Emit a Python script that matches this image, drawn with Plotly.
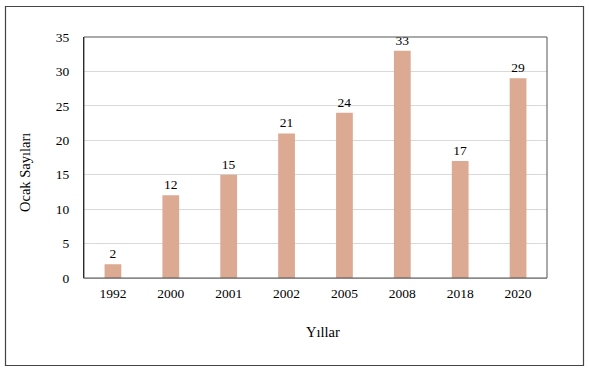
import plotly.graph_objects as go

years = ["1992", "2000", "2001", "2002", "2005", "2008", "2018", "2020"]
counts = [2, 12, 15, 21, 24, 33, 17, 29]
y_ticks = [0, 5, 10, 15, 20, 25, 30, 35]

FONT = "Liberation Serif, Times New Roman, serif"

fig = go.Figure(go.Bar(
    x=years, y=counts,
    marker=dict(color="#DCAA93", line=dict(width=0)),
    text=[str(c) for c in counts], textposition="outside",
    textfont=dict(family=FONT, size=13.5, color="#000"),
    cliponaxis=False,
))

L, R, T, B = 84, 42, 37, 91
W, H = 589, 369
pw, ph = W - L - R, H - T - B

def px2x(px):
    return (px - L) / pw

def py2y(py):
    return (H - B - py) / ph

fig.update_layout(
    width=W, height=H,
    margin=dict(l=L, r=R, t=T, b=B, autoexpand=False),
    paper_bgcolor="white", plot_bgcolor="white",
    bargap=0.71,
    showlegend=False,
    font=dict(family=FONT, size=13.5, color="#000"),
    xaxis=dict(
        showgrid=False, showline=True, linecolor="#bfbfbf", linewidth=1,
        ticks="", ticklabelstandoff=3, automargin=False,
    ),
    yaxis=dict(
        range=[0, 35], tickvals=y_ticks,
        showgrid=True, gridcolor="#d9d9d9", gridwidth=1,
        showline=True, linecolor="#000", linewidth=1,
        zeroline=False, ticks="", ticklabelstandoff=11, automargin=False,
    ),
    annotations=[
        dict(text="Yıllar", xref="paper", yref="paper", x=px2x(323), y=py2y(332),
             showarrow=False, font=dict(family=FONT, size=14.5), xanchor="center", yanchor="middle"),
        dict(text="Ocak Sayıları", xref="paper", yref="paper", x=px2x(25), y=py2y(173),
             showarrow=False, textangle=-90, font=dict(family=FONT, size=14.5),
             xanchor="center", yanchor="middle"),
    ],
    shapes=[
        dict(type="rect", xref="paper", yref="paper",
             x0=0, x1=1, y0=0, y1=1,
             line=dict(color="#555", width=1), layer="above"),
        dict(type="rect", xref="paper", yref="paper",
             x0=px2x(5.5), x1=px2x(583.5), y0=py2y(6.5), y1=py2y(365.5),
             line=dict(color="#444", width=1.2)),
    ],
)

fig.write_html("out.html", config={"displayModeBar": False},
               post_script="document.body.style.margin='0';document.body.style.overflow='hidden';")
